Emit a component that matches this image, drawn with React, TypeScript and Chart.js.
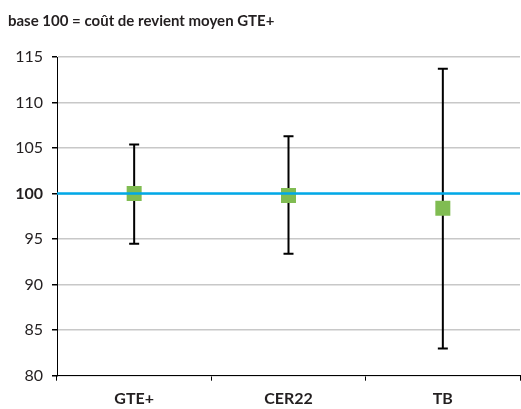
import React, { useEffect, useRef } from "react";
import { Chart, registerables } from "chart.js";

Chart.register(...registerables);

const categories = ["GTE+", "CER22", "TB"];
const means = [100.0, 99.8, 98.4];
const lows = [94.5, 93.4, 83.0];
const highs = [105.4, 106.3, 113.7];
const baseValue = 100;
const yMin = 80;
const yMax = 115;
const yStep = 5;
const titleText = "base 100 = coût de revient moyen GTE+";

const FONT = "Lato, 'Open Sans', sans-serif";
const TEXT = "#231f20";

const errorBarPlugin = {
  id: "errorBars",
  beforeDatasetsDraw(chart: any) {
    const { ctx, scales } = chart;
    const x = scales.x;
    const y = scales.y;
    ctx.save();
    ctx.strokeStyle = "#000";
    ctx.lineWidth = 2;
    categories.forEach((_, i) => {
      const px = x.getPixelForValue(i);
      const top = y.getPixelForValue(highs[i]);
      const bot = y.getPixelForValue(lows[i]);
      ctx.beginPath();
      ctx.moveTo(px, top);
      ctx.lineTo(px, bot);
      ctx.moveTo(px - 5, top);
      ctx.lineTo(px + 5, top);
      ctx.moveTo(px - 5, bot);
      ctx.lineTo(px + 5, bot);
      ctx.stroke();
    });
    ctx.restore();
  },
};

const baseLinePlugin = {
  id: "baseLine",
  afterDatasetsDraw(chart: any) {
    const { ctx, scales, chartArea } = chart;
    const py = scales.y.getPixelForValue(baseValue);
    ctx.save();
    ctx.strokeStyle = "#00a9e8";
    ctx.lineWidth = 2.5;
    ctx.beginPath();
    ctx.moveTo(chartArea.left, py);
    ctx.lineTo(chartArea.right, py);
    ctx.stroke();
    ctx.restore();
  },
};

export default function App() {
  const ref = useRef<HTMLCanvasElement>(null);

  useEffect(() => {
    if (!ref.current) return;
    const chart = new Chart(ref.current, {
      type: "line",
      data: {
        labels: categories,
        datasets: [
          {
            data: means,
            showLine: false,
            pointStyle: "rect",
            pointRadius: 10.6,
            pointHoverRadius: 10.6,
            pointBackgroundColor: "#80bc52",
            pointBorderColor: "#80bc52",
            pointBorderWidth: 0,
          },
        ],
      },
      options: {
        responsive: false,
        animation: false,
        layout: { autoPadding: false, padding: { left: 8, right: 1, top: 0, bottom: 0 } },
        plugins: {
          legend: { display: false },
          tooltip: { enabled: false },
          title: {
            display: true,
            text: titleText,
            align: "start",
            color: TEXT,
            font: { family: FONT, size: 15, weight: "bold" },
            padding: { top: 12, bottom: 27 },
          },
        },
        scales: {
          x: {
            type: "category",
            offset: true,
            grid: {
              offset: true,
              drawOnChartArea: false,
              drawTicks: true,
              tickLength: 5,
              tickColor: "#000",
            },
            border: { color: "#000", width: 1 },
            ticks: {
              color: TEXT,
              padding: 9,
              font: { family: FONT, size: 16, weight: "bold" },
            },
            afterFit: (s: any) => {
              s.height = 33.3;
            },
          },
          y: {
            min: yMin,
            max: yMax,
            ticks: {
              stepSize: yStep,
              color: TEXT,
              padding: 9,
              font: (c: any) =>
                c.tick && c.tick.value === baseValue
                  ? { family: FONT, size: 16, weight: "bold" }
                  : { family: FONT, size: 16, weight: "normal" },
            },
            grid: {
              color: "#c8c8c8",
              lineWidth: 1.5,
              drawTicks: true,
              tickLength: 5,
              tickColor: "#000",
            },
            border: { color: "#000", width: 1 },
            afterFit: (s: any) => {
              s.width = 49;
            },
          },
        },
      },
      plugins: [errorBarPlugin, baseLinePlugin],
    });
    return () => chart.destroy();
  }, []);

  return (
    <div style={{ position: "absolute", left: 0, top: 0, width: 521, height: 409, background: "#fff" }}>
      <canvas ref={ref} width={521} height={409} style={{ display: "block" }} />
    </div>
  );
}
